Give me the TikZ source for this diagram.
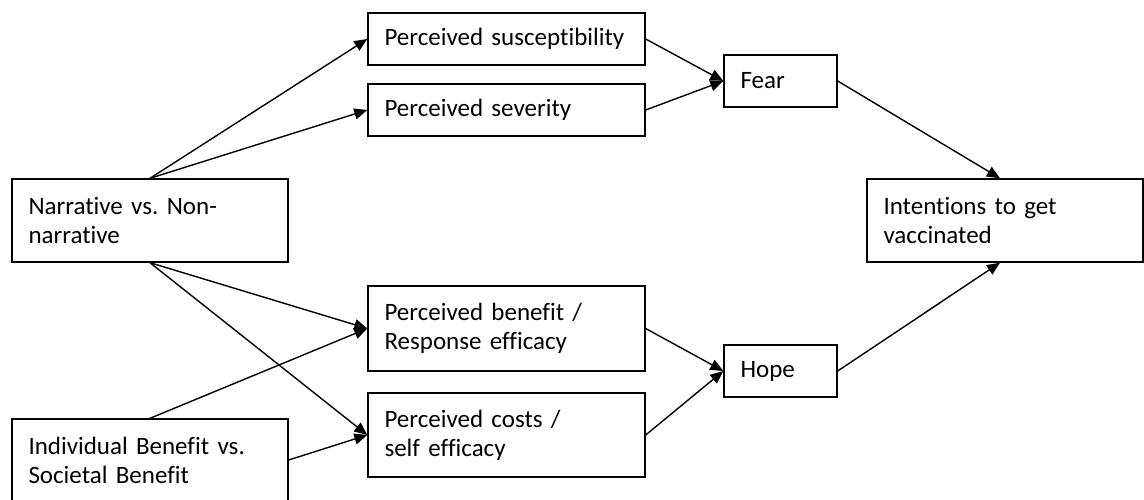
\documentclass[tikz,border=0pt]{standalone}
\usepackage{fontspec}
\setmainfont{Carlito}[RawFeature=-liga]
\frenchspacing
\usetikzlibrary{arrows.meta}
\begin{document}
\begin{tikzpicture}[x=1pt,y=-1pt,
  box/.style={draw, line width=1.4pt, rectangle, inner xsep=16pt, inner ysep=0pt,
    align=left, font=\fontsize{25}{29}\selectfont\frenchspacing},
  wide/.style={minimum width=276pt, text width=243pt},
  mid/.style={minimum width=277pt, text width=244pt},
  small/.style={minimum width=113pt, text width=80pt},
  arr/.style={line width=1.4pt, -{Triangle[length=13pt,width=11pt]}}]
\useasboundingbox (0,0) rectangle (1144,500);
\node[box,wide,minimum height=83pt] (nar) at (150,220.5) {Narrative vs. Non-\\narrative};
\node[box,wide,minimum height=82pt] (ind) at (150,460) {Individual Benefit vs.\\Societal Benefit};
\node[box,mid,minimum height=52pt] (sus) at (506.5,39) {Perceived susceptibility};
\node[box,mid,minimum height=52pt] (sev) at (506.5,110) {Perceived severity};
\node[box,mid,minimum height=85pt] (ben) at (506.5,328.5) {Perceived benefit /\\Response efficacy};
\node[box,mid,minimum height=84pt] (cos) at (506.5,435) {Perceived costs /\\self efficacy};
\node[box,small,minimum height=52pt] (fear) at (780.5,81) {Fear};
\node[box,small,minimum height=52pt] (hope) at (780.5,371) {Hope};
\node[box,wide,minimum height=83pt] (int) at (1005,220.5) {Intentions to get\\vaccinated};
\draw[arr] (nar.north) -- (sus.west);
\draw[arr] (nar.north) -- (sev.west);
\draw[arr] (nar.south) -- (ben.west);
\draw[arr] (nar.south) -- (cos.west);
\draw[arr] (ind.north) -- (ben.west);
\draw[arr] (ind.east) -- (cos.west);
\draw[arr] (sus.east) -- (fear.west);
\draw[arr] (sev.east) -- (fear.west);
\draw[arr] (ben.east) -- (hope.west);
\draw[arr] (cos.east) -- (hope.west);
\draw[arr] (fear.east) -- ([xshift=-5pt]int.north);
\draw[arr] (hope.east) -- ([xshift=-5pt]int.south);
\end{tikzpicture}
\end{document}
